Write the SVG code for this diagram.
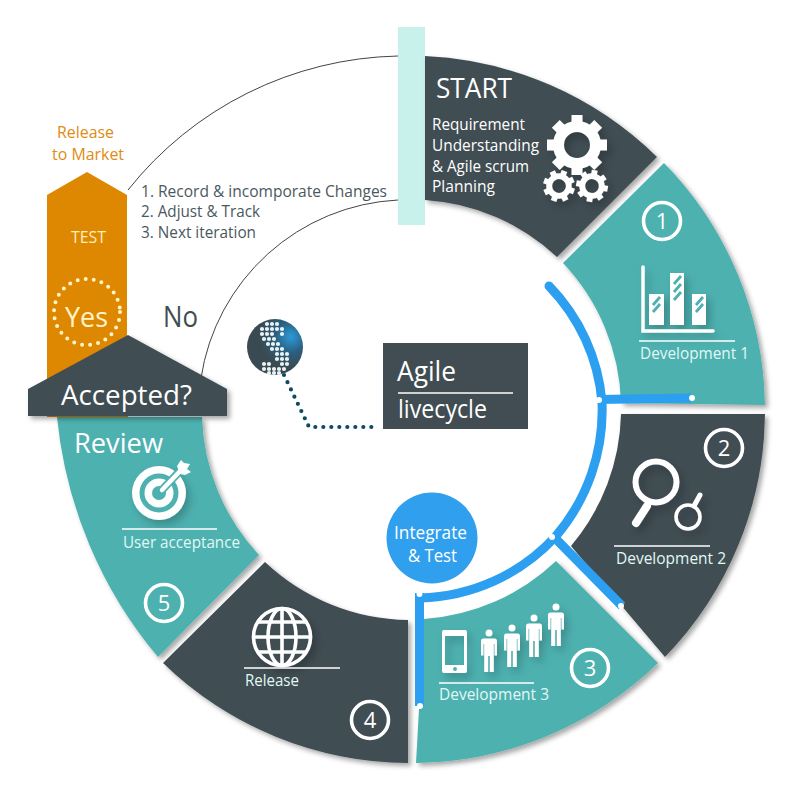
<svg xmlns="http://www.w3.org/2000/svg" xmlns:xlink="http://www.w3.org/1999/xlink" width="800" height="800" viewBox="0 0 800 800">
<style>
text{font-family:"Open Sans","Noto Sans","Liberation Sans",sans-serif;fill:#fff}
.dark{fill:#414d52}.teal{fill:#4db1b0}
.seg{filter:url(#sh)}
.rule{stroke:#fff;stroke-width:1.6;fill:none}
.num{fill:none;stroke:#fff;stroke-width:3.6}
.n{font-size:22px;text-anchor:middle}
.lab{font-size:15.5px;fill:#e2f8f5}
.note{font-size:16.5px;fill:#4b585e}
.blue{stroke:#2c9ff0;fill:none}
.end{fill:#fff}
.thin{fill:none;stroke:#444;stroke-width:1}
.wi{fill:#fff}
.ish{filter:url(#soft)}
</style>
<defs>
<filter id="sh" x="-10%" y="-10%" width="125%" height="125%"><feDropShadow dx="3" dy="3" stdDeviation="2.5" flood-color="#000" flood-opacity=".35"/></filter>
<filter id="soft" x="-30%" y="-30%" width="170%" height="170%"><feDropShadow dx="4" dy="5" stdDeviation="4" flood-color="#000" flood-opacity=".22"/></filter>
<radialGradient id="glob" cx=".78" cy=".32" r=".7"><stop offset="0" stop-color="#2b9bd8"/><stop offset=".4" stop-color="#2b5f80"/><stop offset=".8" stop-color="#3a4a52"/></radialGradient>
<g id="gear">
<circle r="18.5" fill="none" stroke="#fff" stroke-width="11"/>
<g id="t2"><rect x="-5.5" y="-30" width="11" height="10" fill="#fff"/><rect x="-5.5" y="20" width="11" height="10" fill="#fff"/></g>
<use xlink:href="#t2" href="#t2" transform="rotate(45)"/>
<use xlink:href="#t2" href="#t2" transform="rotate(90)"/>
<use xlink:href="#t2" href="#t2" transform="rotate(135)"/>
</g>
<path id="person" class="wi" d="M-6,5.500H6Q8,5.500 8,8V22.500H5.500V11H4.800V39H.8V23H-.8V39H-4.800V11H-5.500V22.500H-8V8Q-8,5.500 -6,5.500Z"/>
</defs>

<g id="arcs"><path class="thin" d="M128,190A354 354 0 0 1 398,56"/><path class="thin" d="M201,378A210 210 0 0 1 398,200"/></g>

<g id="test-arrow">
<path fill="#de8802" d="M47,195L87,172L127,195V336L128,417H47Z"/>
<text x="71" y="243" font-size="17" textLength="35" lengthAdjust="spacingAndGlyphs" style="fill:#fdeebc">TEST</text>
<circle cx="87" cy="312" r="33" fill="none" stroke="#fff5c4" stroke-width="4" stroke-linecap="round" stroke-dasharray="0 8.100"/>
<text x="65" y="327" font-size="28" textLength="43" lengthAdjust="spacingAndGlyphs" style="fill:#fdf5c9">Yes</text>
</g>
<g id="release-market">
<text x="57" y="138" font-size="16" textLength="57" lengthAdjust="spacingAndGlyphs" style="fill:#e08b14">Release</text>
<text x="52" y="160" font-size="16" textLength="72" lengthAdjust="spacingAndGlyphs" style="fill:#e08b14">to Market</text>
</g>

<g id="start">
<rect x="398" y="27" width="27" height="198" fill="#c8f1ec"/>
<path class="dark seg" d="M425,56A354 354 0 0 1 657,157L557,257A212 212 0 0 0 425,200Z"/>
<text x="436" y="98" font-size="28" textLength="76" lengthAdjust="spacingAndGlyphs">START</text>
<text x="432" y="130" font-size="16.500" textLength="93" lengthAdjust="spacingAndGlyphs">Requirement</text>
<text x="432" y="151" font-size="16.500" textLength="107" lengthAdjust="spacingAndGlyphs">Understanding</text>
<text x="432" y="172" font-size="16.500" textLength="97" lengthAdjust="spacingAndGlyphs">&amp; Agile scrum</text>
<text x="432" y="192" font-size="16.500" textLength="63" lengthAdjust="spacingAndGlyphs">Planning</text>
<g class="ish">
<use xlink:href="#gear" href="#gear" transform="translate(577,145)"/>
<use xlink:href="#gear" href="#gear" transform="translate(559,186) scale(.53) rotate(20)"/>
<use xlink:href="#gear" href="#gear" transform="translate(592,186) scale(.53) rotate(10)"/>
</g>
</g>

<g id="dev1">
<path class="teal seg" d="M664,163A354 354 0 0 1 765,405L621,403A212 212 0 0 0 563,263Z"/>
<circle class="num" cx="662" cy="221" r="18.500"/>
<text class="n" x="662" y="229">1</text>
<g class="ish">
<path d="M643,267V331H713" fill="none" stroke="#fff" stroke-width="3.500" stroke-linecap="round"/>
<rect class="wi" x="649" y="294" width="15" height="31"/><rect class="wi" x="670" y="273" width="14" height="52"/><rect class="wi" x="692" y="294" width="14" height="31"/>
</g>
<path d="M653,305l7,-8M653,312l7,-8M674,284l7,-8M674,292l7,-8M674,300l7,-8M696,305l7,-8M696,312l7,-8" stroke="#4db1b0" stroke-width="2.800" fill="none"/>
<path class="rule" d="M639,341H735"/>
<text class="lab" x="640" y="359" textLength="109" lengthAdjust="spacingAndGlyphs">Development 1</text>
</g>

<g id="dev2">
<path class="dark seg" d="M765,414A354 354 0 0 1 665,657L571,546A212 212 0 0 0 621,414Z"/>
<circle class="num" cx="724" cy="448" r="18.500"/>
<text class="n" x="724" y="456">2</text>
<g class="ish" fill="none" stroke="#fff" stroke-linecap="round">
<circle cx="656" cy="482" r="20.500" stroke-width="6"/><path d="M647,506L636,523" stroke-width="8"/>
<circle cx="688" cy="517" r="12" stroke-width="3.600"/><path d="M694,506L700,495" stroke-width="5"/>
</g>
<path class="rule" d="M614,546H710"/>
<text class="lab" x="616" y="564" textLength="110" lengthAdjust="spacingAndGlyphs">Development 2</text>
</g>

<g id="dev3">
<path class="teal seg" d="M658,663A354 354 0 0 1 416,763L424,619A212 212 0 0 0 556,561Z"/>
<circle class="num" cx="590" cy="668" r="18.500"/>
<text class="n" x="590" y="676">3</text>
<g class="ish">
<path class="wi" fill-rule="evenodd" d="M444,630H465a2,2 0 0 1 2,2V671a2,2 0 0 1 -2,2H444a2,2 0 0 1 -2,-2V632a2,2 0 0 1 2,-2ZM445,636V665H464V636Z"/>
<g transform="translate(489,633)"><circle class="wi" r="3.500"/><use xlink:href="#person" href="#person"/></g>
<g transform="translate(512,628)"><circle class="wi" r="3.500"/><use xlink:href="#person" href="#person"/></g>
<g transform="translate(534,618)"><circle class="wi" r="3.500"/><use xlink:href="#person" href="#person"/></g>
<g transform="translate(556,607)"><circle class="wi" r="3.500"/><use xlink:href="#person" href="#person"/></g>
</g>
<circle cx="455" cy="669" r="2" fill="#4db1b0"/>
<path class="rule" d="M439,683H534"/>
<text class="lab" x="439" y="700" textLength="110" lengthAdjust="spacingAndGlyphs">Development 3</text>
</g>

<g id="release">
<path class="dark seg" d="M408,763A354 354 0 0 1 163,663L265,562A212 212 0 0 0 408,620Z"/>
<circle class="num" cx="370" cy="720" r="18.500"/>
<text class="n" x="370" y="728">4</text>
<g class="ish" fill="none" stroke="#fff" stroke-width="3.600">
<circle cx="282" cy="637" r="28.500" fill="#414d52"/>
<ellipse cx="282" cy="637" rx="14" ry="28.500"/>
<path d="M282,608.500V665.500M253.500,637H310.500M258,622H306M258,652H306"/>
</g>
<path class="rule" d="M244,668H340"/>
<text class="lab" x="245" y="686" textLength="54" lengthAdjust="spacingAndGlyphs">Release</text>
</g>

<g id="review">
<path class="teal seg" d="M158,657A440 440 0 0 1 57,417L202,417A212 212 0 0 0 259,555Z"/>
<text x="74" y="453" font-size="28" textLength="89" lengthAdjust="spacingAndGlyphs">Review</text>
<circle class="num" cx="164" cy="603" r="18.500"/>
<text class="n" x="164" y="611">5</text>
<g class="ish">
<circle class="wi" cx="159" cy="493" r="27"/>
<circle class="teal" cx="159" cy="493" r="19.500"/>
<circle class="wi" cx="159" cy="493" r="14.500"/>
<circle class="teal" cx="159" cy="493" r="7"/>
</g>
<path d="M162,490L178,473" stroke="#4db1b0" stroke-width="8" fill="none"/>
<path d="M162,490L182,469" stroke="#fff" stroke-width="4.500" fill="none" stroke-linecap="round"/>
<path class="wi" d="M177,466L181,460L184,463L190,464L187,469L191,472L185,475L180,474Z"/>
<path class="rule" d="M122,529H217"/>
<text class="lab" x="123" y="548" textLength="117" lengthAdjust="spacingAndGlyphs">User acceptance</text>
</g>

<g id="accepted">
<path class="dark seg" d="M28,416V389L128,335L227,389V416Z"/>
<text x="61" y="405" font-size="28" textLength="131" lengthAdjust="spacingAndGlyphs">Accepted?</text>
</g>

<g id="notes">
<text class="note" x="141" y="197" textLength="246" lengthAdjust="spacingAndGlyphs">1. Record &amp; incomporate Changes</text>
<text class="note" x="141" y="217" textLength="119" lengthAdjust="spacingAndGlyphs">2. Adjust &amp; Track</text>
<text class="note" x="141" y="238" textLength="115" lengthAdjust="spacingAndGlyphs">3. Next iteration</text>
<text x="163" y="327" font-size="29" textLength="35" lengthAdjust="spacingAndGlyphs" style="fill:#414d52">No</text>
</g>

<g id="logo">
<circle cx="275" cy="347" r="28" fill="url(#glob)"/>
<path fill="none" stroke="#e9f1f3" stroke-width="4.200" stroke-linecap="round" d="M267,324h0M272,324h0M277,324h0M262,329h0M267,329h0M272,329h0M277,329h0M282,329h0M262,334h0M267,334h0M272,334h0M282,334h0M264,339h0M269,339h0M274,339h0M268,344h0M273,344h0M278,344h0M272,349h0M277,349h0M282,349h0M277,354h0M282,354h0M287,354h0M277,359h0M282,359h0M287,359h0M264,364h0M269,364h0M282,364h0M287,364h0M264,369h0M269,369h0M274,369h0M279,369h0M284,369h0M269,373h0M274,373h0M279,373h0"/>
</g>

<g id="connectors">
<path class="blue" stroke-width="9" stroke-linecap="round" d="M549,286A190 190 0 0 1 602,402A194 194 0 0 1 556,536A190 190 0 0 1 420,598"/>
<path class="blue" stroke-width="9" d="M598,399.500L691,398M553,536L622,606M419.500,593V706"/>
<circle class="end" cx="599" cy="400" r="3"/><circle class="end" cx="692" cy="398" r="3"/>
<circle class="end" cx="552" cy="537" r="3"/><circle class="end" cx="621" cy="606" r="3"/>
<circle class="end" cx="419.500" cy="594" r="3"/><circle class="end" cx="420" cy="706" r="3"/>
<path d="M284,375L309,427H372" fill="none" stroke="#0e4a63" stroke-width="4.200" stroke-linecap="round" stroke-dasharray="0 8"/>
</g>

<g id="integrate">
<circle cx="432" cy="538" r="45.500" fill="#2f9fee"/>
<text x="394" y="539" font-size="18" textLength="73" lengthAdjust="spacingAndGlyphs">Integrate</text>
<text x="408" y="562" font-size="18" textLength="49" lengthAdjust="spacingAndGlyphs">&amp; Test</text>
</g>

<g id="agile">
<rect class="dark" x="383" y="343" width="145" height="86"/>
<text x="397" y="381" font-size="28" textLength="59" lengthAdjust="spacingAndGlyphs">Agile</text>
<path class="rule" d="M398,393H513"/>
<text x="398" y="418" font-size="25" textLength="89" lengthAdjust="spacingAndGlyphs">livecycle</text>
</g>
</svg>
